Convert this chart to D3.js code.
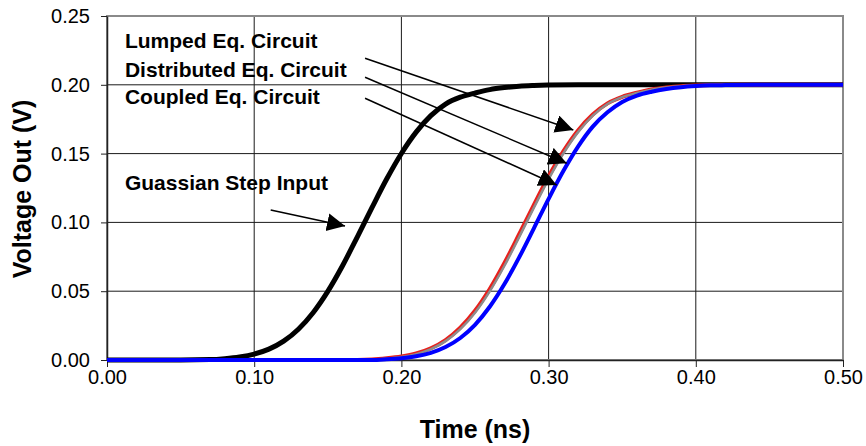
<!DOCTYPE html>
<html>
<head>
<meta charset="utf-8">
<script src="https://cdn.jsdelivr.net/npm/d3@7"></script>
<style>
  body { margin: 0; background: #fff; }
  text { font-family: "Liberation Sans", Arial, sans-serif; fill: #000; }
  .tick text { font-size: 20px; }
  .axisTitle { font-size: 25px; font-weight: bold; }
  .note { font-size: 21px; font-weight: bold; }
</style>
</head>
<body>
<div id="chart"></div>
<script>
var svgWidth = 866;
var svgHeight = 446;

var margin = { top: 16, right: 23, bottom: 86, left: 107 };
var width = svgWidth - margin.left - margin.right;
var height = svgHeight - margin.top - margin.bottom;

// tick values
var xTicks = [0, 0.1, 0.2, 0.3, 0.4, 0.5];
var yTicks = [0, 0.05, 0.1, 0.15, 0.2, 0.25];

// series: [time ns, volts]
var gaussianStep = [
  [0.00, 0], [0.05, 0], [0.07, 0.0003], [0.08, 0.001], [0.09, 0.0022], [0.10, 0.0043],
  [0.11, 0.0079], [0.12, 0.0137], [0.13, 0.0224], [0.14, 0.0344], [0.15, 0.0499],
  [0.16, 0.0685], [0.17, 0.0893], [0.18, 0.1107], [0.19, 0.1315], [0.20, 0.1501],
  [0.21, 0.1656], [0.22, 0.1776], [0.23, 0.186], [0.24, 0.191], [0.25, 0.194],
  [0.26, 0.1965], [0.27, 0.198], [0.28, 0.199], [0.29, 0.1995], [0.30, 0.1998],
  [0.32, 0.2], [0.50, 0.2]
];

var lumped = [
  [0.00, 0], [0.16, 0], [0.18, 0.0004], [0.19, 0.0012], [0.20, 0.0025], [0.21, 0.0047],
  [0.22, 0.0085], [0.23, 0.0145], [0.24, 0.0235], [0.25, 0.0358], [0.26, 0.0516],
  [0.27, 0.0705], [0.28, 0.0914], [0.29, 0.1127], [0.30, 0.1333], [0.31, 0.1516],
  [0.32, 0.1668], [0.33, 0.1784], [0.34, 0.1865], [0.35, 0.1913], [0.36, 0.1942],
  [0.37, 0.1966], [0.38, 0.198], [0.39, 0.199], [0.40, 0.1995], [0.41, 0.1998],
  [0.43, 0.2], [0.50, 0.2]
];

var distributed = [
  [0.00, 0], [0.17, 0], [0.18, 0.0003], [0.19, 0.001], [0.20, 0.0022], [0.21, 0.0043],
  [0.22, 0.0079], [0.23, 0.0137], [0.24, 0.0224], [0.25, 0.0344], [0.26, 0.0499],
  [0.27, 0.0685], [0.28, 0.0893], [0.29, 0.1107], [0.30, 0.1315], [0.31, 0.1501],
  [0.32, 0.1656], [0.33, 0.1776], [0.34, 0.186], [0.35, 0.191], [0.36, 0.194],
  [0.37, 0.1965], [0.38, 0.198], [0.39, 0.199], [0.40, 0.1995], [0.41, 0.1998],
  [0.43, 0.2], [0.50, 0.2]
];

var coupled = [
  [0.00, 0], [0.18, 0], [0.19, 0.0005], [0.20, 0.0013], [0.21, 0.0027], [0.22, 0.0052],
  [0.23, 0.0094], [0.24, 0.016], [0.25, 0.0256], [0.26, 0.0387], [0.27, 0.0552],
  [0.28, 0.0746], [0.29, 0.0957], [0.30, 0.1171], [0.31, 0.1373], [0.32, 0.1551],
  [0.33, 0.1696], [0.34, 0.18], [0.35, 0.1875], [0.36, 0.1922], [0.37, 0.195],
  [0.38, 0.197], [0.39, 0.1983], [0.40, 0.1991], [0.41, 0.1996], [0.42, 0.1998],
  [0.44, 0.2], [0.50, 0.2]
];

// annotations in data units: label, label pos, arrow start, arrow tip
var notes = [
  { text: "Lumped Eq. Circuit",      at: [0.0122, 0.2264], from: [0.1753, 0.2193], to: [0.3168, 0.1672] },
  { text: "Distributed Eq. Circuit", at: [0.0122, 0.2060], from: [0.1753, 0.2055], to: [0.3123, 0.1430] },
  { text: "Coupled Eq. Circuit",     at: [0.0122, 0.1860], from: [0.1753, 0.1902], to: [0.3055, 0.1272] },
  { text: "Guassian Step Input",     at: [0.0122, 0.1239], from: [0.1112, 0.1090], to: [0.1617, 0.0974] }
];

var svg = d3.select("#chart")
  .append("svg")
  .attr("width", svgWidth)
  .attr("height", svgHeight);

var chartGroup = svg.append("g")
  .attr("transform", `translate(${margin.left}, ${margin.top})`);

var xScale = d3.scaleLinear().domain([0, 0.5]).range([0, width]);
var yScale = d3.scaleLinear().domain([0, 0.25]).range([height, 0]);

// gridlines
chartGroup.append("g")
  .selectAll("line")
  .data(xTicks.slice(1, -1))
  .enter()
  .append("line")
  .attr("x1", d => xScale(d)).attr("x2", d => xScale(d))
  .attr("y1", 0).attr("y2", height)
  .attr("stroke", "#1a1a1a").attr("stroke-width", 1);

chartGroup.append("g")
  .selectAll("line")
  .data(yTicks.slice(1, -1))
  .enter()
  .append("line")
  .attr("x1", 0).attr("x2", width)
  .attr("y1", d => yScale(d)).attr("y2", d => yScale(d))
  .attr("stroke", "#1a1a1a").attr("stroke-width", 1);

// plot border
chartGroup.append("rect")
  .attr("width", width).attr("height", height)
  .attr("fill", "none")
  .attr("stroke", "#8a8a8a").attr("stroke-width", 2);

// axes
var xAxis = d3.axisBottom(xScale).tickValues(xTicks).tickFormat(d3.format(".2f")).tickSize(7).tickSizeOuter(0);
var yAxis = d3.axisLeft(yScale).tickValues(yTicks).tickFormat(d3.format(".2f")).tickSize(6).tickSizeOuter(0);

var gx = chartGroup.append("g")
  .attr("transform", `translate(0, ${height})`)
  .call(xAxis);
gx.selectAll(".tick text").attr("y", 24).attr("dy", 0);

var gy = chartGroup.append("g").call(yAxis);
gy.selectAll(".tick text").attr("x", -17);

chartGroup.selectAll(".domain").attr("stroke", "#222").attr("stroke-width", 1.5);
chartGroup.selectAll(".tick line").attr("stroke", "#222");

// curves
var line = d3.line()
  .x(d => xScale(d[0]))
  .y(d => yScale(d[1]))
  .curve(d3.curveMonotoneX);

chartGroup.append("path").datum(gaussianStep)
  .attr("d", line).attr("fill", "none").attr("stroke", "#000").attr("stroke-width", 5);
chartGroup.append("path").datum(lumped)
  .attr("d", line).attr("fill", "none").attr("stroke", "#e8201c").attr("stroke-width", 4);
chartGroup.append("path").datum(distributed)
  .attr("d", line).attr("fill", "none").attr("stroke", "#8c8c8c").attr("stroke-width", 2.5);
chartGroup.append("path").datum(coupled)
  .attr("d", line).attr("fill", "none").attr("stroke", "#0000ff").attr("stroke-width", 4);

// arrowheads
svg.append("defs").append("marker")
  .attr("id", "head")
  .attr("markerUnits", "userSpaceOnUse")
  .attr("markerWidth", 20).attr("markerHeight", 20)
  .attr("refX", 18).attr("refY", 9)
  .attr("orient", "auto")
  .append("path")
  .attr("d", "M0,0 L18,9 L0,18 Z")
  .attr("fill", "#000");

chartGroup.append("g")
  .selectAll("line")
  .data(notes)
  .enter()
  .append("line")
  .attr("x1", d => xScale(d.from[0])).attr("y1", d => yScale(d.from[1]))
  .attr("x2", d => xScale(d.to[0])).attr("y2", d => yScale(d.to[1]))
  .attr("stroke", "#000").attr("stroke-width", 1.5)
  .attr("marker-end", "url(#head)");

chartGroup.append("g")
  .selectAll("text")
  .data(notes)
  .enter()
  .append("text")
  .attr("class", "note")
  .attr("x", d => xScale(d.at[0]))
  .attr("y", d => yScale(d.at[1]))
  .text(d => d.text);

// axis labels
svg.append("text")
  .attr("class", "axisTitle")
  .attr("transform", `translate(31, ${margin.top + height / 2 + 1}) rotate(-90)`)
  .attr("text-anchor", "middle")
  .text("Voltage Out (V)");

svg.append("text")
  .attr("class", "axisTitle")
  .attr("x", margin.left + width / 2)
  .attr("y", 438)
  .attr("text-anchor", "middle")
  .text("Time (ns)");
</script>
</body>
</html>
